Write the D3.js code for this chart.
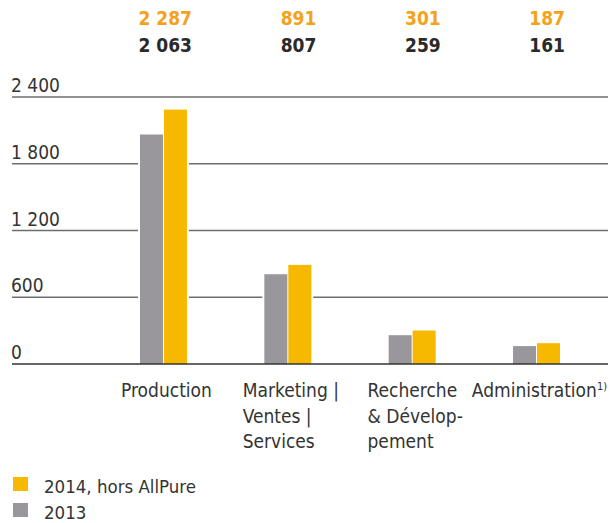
<!DOCTYPE html>
<html>
<head>
<meta charset="utf-8">
<script src="https://cdn.jsdelivr.net/npm/d3@7.9.0/dist/d3.min.js"></script>
<style>
  body { margin: 0; background: #fff; }
  svg text { font-family: "DejaVu Sans Condensed", "DejaVu Sans", sans-serif; }
</style>
</head>
<body>
<svg width="616" height="523"></svg>
<script>
// Data
const categories = ['Production', 'Marketing | Ventes | Services', 'Recherche & Développement', 'Administration'];
const categoryLines = [
  ['Production'],
  ['Marketing |', 'Ventes |', 'Services'],
  ['Recherche', '& Dévelop-', 'pement'],
  ['Administration']
];
const series = ['2013', '2014'];
const values2013 = [2063, 807, 259, 161];
const values2014 = [2287, 891, 301, 187];
const yTicks = [0, 600, 1200, 1800, 2400];
const legendLabels = ['2014, hors AllPure', '2013'];

const colors = { '2013': '#99979c', '2014': '#f7b900' };
const orange = '#f4a21c';
const dark = '#2a2a2a';

const svg = d3.select('svg');
const fmt = (v) => d3.format(',')(v).replace(/,/g, ' ');

// Scales
const y = d3.scaleLinear().domain([0, 2400]).range([364, 97]);
const x0 = d3.scaleBand().domain(categories).range([101.3, 598.7]);
const x1 = d3.scaleBand().domain(series).range([-23.5, 23.5]).paddingInner(0.04);
const cx = (c) => x0(c) + x0.bandwidth() / 2;

// Gridlines (non-zero)
svg.append('g')
  .selectAll('line')
  .data(yTicks.filter((t) => t > 0))
  .join('line')
  .attr('x1', 12).attr('x2', 608)
  .attr('y1', (d) => y(d)).attr('y2', (d) => y(d))
  .attr('stroke', '#6e6e6e')
  .attr('stroke-width', 1.3);

// Tick labels
svg.append('g')
  .selectAll('text')
  .data(yTicks)
  .join('text')
  .attr('x', 11)
  .attr('y', (d) => y(d) - 5)
  .attr('font-size', 19)
  .attr('fill', '#333')
  .text((d) => fmt(d));

// Bars with white gap behind them
const groups = svg.append('g')
  .selectAll('g')
  .data(categories)
  .join('g')
  .attr('transform', (c) => `translate(${cx(c)},0)`);

groups.append('rect')
  .attr('x', x1('2013') - 2)
  .attr('width', x1('2014') + x1.bandwidth() - x1('2013') + 4)
  .attr('y', (c, i) => y(values2014[i]) - 2)
  .attr('height', (c, i) => y(0) - y(values2014[i]) + 2)
  .attr('fill', '#fff');

groups.selectAll('.bar')
  .data((c, i) => [
    { s: '2013', v: values2013[i] },
    { s: '2014', v: values2014[i] }
  ])
  .join('rect')
  .attr('class', 'bar')
  .attr('x', (d) => x1(d.s))
  .attr('width', x1.bandwidth())
  .attr('y', (d) => y(d.v))
  .attr('height', (d) => y(0) - y(d.v))
  .attr('fill', (d) => colors[d.s]);

// Baseline
svg.append('line')
  .attr('x1', 12).attr('x2', 608)
  .attr('y1', y(0)).attr('y2', y(0))
  .attr('stroke', '#333')
  .attr('stroke-width', 1.5);

// Value labels at top, right-aligned to the pair
const labelRight = (c) => cx(c) + 23.5 + 5;
svg.append('g')
  .selectAll('text')
  .data(categories)
  .join('text')
  .attr('x', labelRight)
  .attr('y', 25)
  .attr('text-anchor', 'end')
  .attr('font-size', 19)
  .attr('font-weight', 'bold')
  .attr('fill', orange)
  .text((c, i) => fmt(values2014[i]));

svg.append('g')
  .selectAll('text')
  .data(categories)
  .join('text')
  .attr('x', labelRight)
  .attr('y', 52)
  .attr('text-anchor', 'end')
  .attr('font-size', 19)
  .attr('font-weight', 'bold')
  .attr('fill', dark)
  .text((c, i) => fmt(values2013[i]));

// Category labels: left-aligned block centred on the pair
categories.forEach((c, i) => {
  const t = svg.append('text')
    .attr('font-size', 19)
    .attr('fill', '#333');
  categoryLines[i].forEach((line, j) => {
    t.append('tspan')
      .attr('x', 0)
      .attr('y', 397 + j * 25.5)
      .text(line);
  });
  if (c === 'Administration') {
    t.append('tspan')
      .attr('font-size', 11)
      .attr('dy', -7)
      .text('1)');
  }
  const w = t.node().getBBox().width;
  t.attr('transform', `translate(${cx(c) - w / 2 + 3},0)`);
});

// Legend
const legendKeys = ['2014', '2013'];
const legend = svg.append('g')
  .selectAll('g')
  .data(legendLabels)
  .join('g')
  .attr('transform', (d, i) => `translate(13,${477 + i * 26})`);

legend.append('rect')
  .attr('width', 15)
  .attr('height', 14)
  .attr('fill', (d, i) => colors[legendKeys[i]]);

legend.append('text')
  .attr('x', 31)
  .attr('y', 16)
  .attr('font-size', 18.5)
  .attr('fill', '#333')
  .text((d) => d);
</script>
</body>
</html>
